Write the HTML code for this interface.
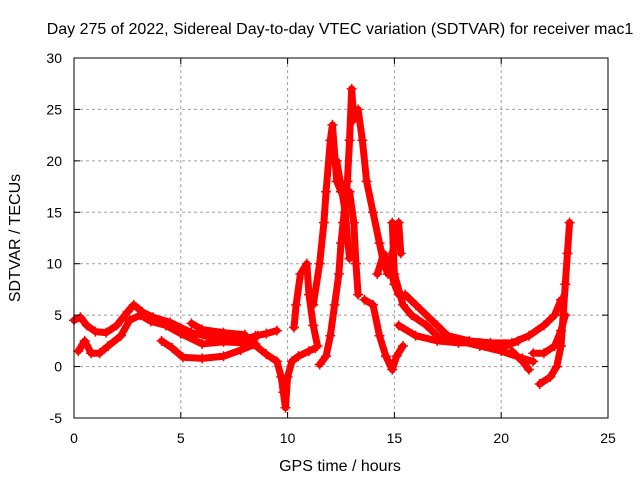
<!DOCTYPE html>
<html><head><meta charset="utf-8"><style>
body{margin:0;background:#fff;}
svg text{font-family:"Liberation Sans",sans-serif;font-size:14px;fill:#000;}
svg text.big{font-size:16px;}
</style></head><body>
<svg id="chart" width="640" height="480" xmlns="http://www.w3.org/2000/svg">
<rect width="640" height="480" fill="#fff"/>
<g id="grid"></g>
<g id="series"></g>
<rect x="74" y="58" width="534" height="360" fill="none" stroke="#000" stroke-width="1"/>
<g id="axes"></g>
<text class="big" x="340" y="34" text-anchor="middle">Day 275 of 2022, Sidereal Day-to-day VTEC variation (SDTVAR) for receiver mac1</text>
<text class="big" x="340" y="471" text-anchor="middle">GPS time / hours</text>
<text class="big" x="0" y="0" text-anchor="middle" transform="translate(20,238) rotate(-90)">SDTVAR / TECUs</text>
</svg>
<script>
const xTicks=[0,5,10,15,20,25];
const yTicks=[-5,0,5,10,15,20,25,30];
const s1=[[0,4.5],[0.3,4.8],[0.6,4],[1,3.4],[1.5,3.3],[2,4],[2.5,5.3],[2.8,6],[3.2,5.3],[3.7,4.8],[4.5,4.3],[5.5,3.3],[6.5,2.8],[7.5,3],[8,2.6],[8.5,3],[9,3.2],[9.5,3.5]];
const s2=[[0.2,1.5],[0.5,2.5],[0.8,1.3],[1.2,1.3],[1.6,2],[2.2,3],[2.6,4.5],[3.1,5],[3.6,4.4],[4.3,4],[5,3.2],[6,2.2],[7,2.4],[8,2.3],[8.6,3]];
const s3=[[4.1,2.5],[4.6,1.8],[5.1,0.9],[6,0.8],[7,1],[7.8,1.6],[8.5,2.2]];
const s4=[[5.5,4.2],[6,3.6],[7,3.3],[8,3.1]];
const s5=[[8.4,2.2],[9,1.2],[9.5,0.5],[9.7,-1],[9.8,-2.5],[9.9,-4],[10,-1],[10.2,0.5],[10.5,1],[11,1.5],[11.3,1.8]];
const s6=[[10.3,3.8],[10.4,6],[10.6,9],[10.9,10],[11,7],[11.2,4],[11.4,2]];
const s7=[[11.2,6],[11.5,10],[11.7,14],[11.8,17],[12,22],[12.1,23.5],[12.3,18],[12.5,17],[12.8,16]];
const s8=[[11.5,0.2],[11.8,1],[12,3],[12.2,6],[12.4,9],[12.5,12],[12.6,14],[12.8,18],[12.9,22],[13,27],[13.1,24]];
const s9=[[13.3,25],[13.5,22],[13.7,18],[14,15],[14.3,12],[14.5,10],[14.7,9],[15,12],[15.2,14],[15.3,11]];
const s10=[[12.9,17],[13.1,14],[13.2,10],[13.3,7]];
const s11=[[13.6,6.5],[14,6],[14.3,3],[14.6,1],[14.9,-0.3],[15.1,1],[15.4,2]];
const s12=[[14.9,14],[15,9],[15.4,6],[15.8,5],[16.5,4],[17,3],[18,2.5],[19,2],[20,1.5],[21,0.8],[21.5,0.5]];
const s13=[[15.5,7],[16,6],[17,4],[17.5,3],[18.5,2.5],[19.5,2.3],[20.5,2.3],[21.3,3],[22,4],[22.5,5],[22.8,6.5]];
const s14=[[15.2,4],[16,3],[17,2.5],[18,2.3],[19,2.3],[20,1.8],[20.8,2.5]];
const s15=[[20.5,1.5],[21,0.5],[21.3,-0.3]];
const s16=[[21.8,-1.7],[22.3,-1],[22.6,0],[22.8,2],[22.9,5],[23,8],[23.1,11],[23.2,14]];
const s17=[[21.5,1.3],[22,1.3],[22.5,2],[22.8,3.5],[23,5]];
const s18=[[12.3,20],[12.5,17.5],[12.7,15],[12.8,12.5],[12.9,10.5]];
const s19=[[14.2,9],[14.5,11],[14.8,9.5],[15,8],[15.2,7]];
const allSeries=[s1,s2,s3,s4,s5,s6,s7,s8,s9,s10,s11,s12,s13,s14,s15,s16,s17,s18,s19];

const NS="http://www.w3.org/2000/svg";
const X=t=>74+(t-0)/25*534;
const Y=v=>418-(v+5)/35*360;
const grid=document.getElementById('grid'),axes=document.getElementById('axes'),ser=document.getElementById('series');
function mk(tag,attrs,parent){const e=document.createElementNS(NS,tag);for(const k in attrs)e.setAttribute(k,attrs[k]);parent.appendChild(e);return e;}
xTicks.forEach(t=>{
  const x=X(t);
  if(t>0&&t<25){const g=mk('line',{x1:x,x2:x,y1:58,y2:418,stroke:'#a0a0a0','stroke-dasharray':'3,3'},grid);
  
  }
  mk('line',{x1:x,x2:x,y1:418,y2:412,stroke:'#000'},axes);
  mk('line',{x1:x,x2:x,y1:58,y2:64,stroke:'#000'},axes);
  const tx=mk('text',{x:x,y:443,'text-anchor':'middle'},axes);tx.textContent=t;
  
  
});
yTicks.forEach(v=>{
  const y=Y(v);
  if(v>-5&&v<30){const g=mk('line',{x1:74,x2:608,y1:y,y2:y,stroke:'#a0a0a0','stroke-dasharray':'3,3'},grid);
  
  }
  mk('line',{x1:74,x2:80,y1:y,y2:y,stroke:'#000'},axes);
  mk('line',{x1:602,x2:608,y1:y,y2:y,stroke:'#000'},axes);
  const tx=mk('text',{x:62,y:y+5,'text-anchor':'end'},axes);tx.textContent=v;
  
  
});
allSeries.forEach((s,i)=>{
  const g=mk('g',{},ser);
  
  
  mk('polyline',{points:s.map(p=>X(p[0])+','+Y(p[1])).join(' '),fill:'none',stroke:'#f00','stroke-width':7,'stroke-linejoin':'round','stroke-linecap':'round'},g);
  s.forEach(p=>{
    const x=X(p[0]),y=Y(p[1]);
    const m=mk('path',{d:`M${x-5},${y}H${x+5}M${x},${y-5}V${y+5}`,stroke:'#f00','stroke-width':1.5},g);
    
    
  });
});
</script>
</body></html>
